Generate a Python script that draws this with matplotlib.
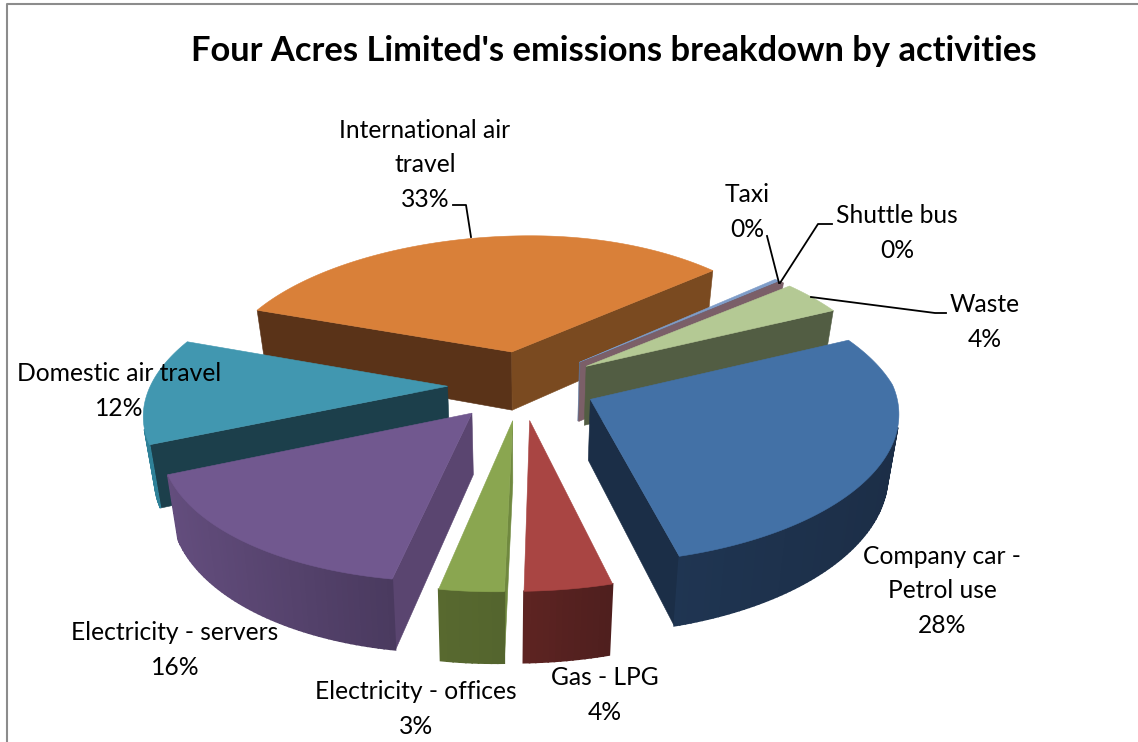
import numpy as np
from matplotlib import pyplot as plt
from matplotlib.patches import Polygon
from matplotlib.colors import to_rgb

plt.rcParams['font.family'] = ['Lato', 'DejaVu Sans']

title = "Four Acres Limited's emissions breakdown by activities"

# clockwise from the start angle, as in the source workbook
activities = ["Company car -\nPetrol use", "Gas - LPG", "Electricity - offices", "Electricity - servers",
              "Domestic air travel", "International air\ntravel", "Taxi", "Shuttle bus", "Waste"]
shares = [28, 4, 3, 16, 12, 33, 0.3, 0.3, 4]

top_colors = ["#4371A6", "#A94543", "#8AA650", "#71588F", "#4197B0", "#D98039", "#7F9DC9", "#7B5F68", "#B4C994"]
# outer wall, left end then right end on screen
wall_colors = [("#1F3552", "#1C2E47"), ("#5E2422", "#4F1F1E"), ("#58692F", "#54652E"), ("#634D7D", "#4A3A5F"),
               ("#2F8198", "#2F8198"), ("#7A4A20", "#7A4A20"), ("#5F7599", "#5F7599"), ("#7B5F68", "#7B5F68"),
               ("#525D43", "#525D43")]
# cut faces: the one at the start of the slice, the one at the end
cut_colors = [("#1B2E47", "#1B2E47"), ("#5E2422", "#5E2422"), ("#70893F", "#58692F"), ("#5A4570", "#5A4570"),
              ("#1C3F4B", "#1C3F4B"), ("#5A3318", "#7A4A20"), ("#5F7599", "#5F7599"), ("#7B5F68", "#7B5F68"),
              ("#525D43", "#525D43")]

label_pos = [(942, 591), (605, 695), (416, 709), (175, 650), (119, 391), (425, 165), (747, 212), (897, 233), (985, 322)]
leaders = [[(453, 205), (466, 205), (471, 237)],
           [(767, 236), (779, 283)],
           [(832, 224), (818, 224), (780, 283)],
           [(946, 313), (935, 313), (811, 297)]]

# view settings for the fake 3d pie
cx, cy = 522, 385
rx, ry = 297, 139
depth = 60
persp = 7.8
shear = 16.7
taper = 0.03
explode = 0.25
start_angle = 26


def project(x, y, z=0):
    s = persp / (persp + y)
    px = rx * x * s * (1 - taper * z) + shear * y
    # right side of the original is a bit wider in front, narrower at the back
    px += 6 * max(x, 0) - 18 * max(x, 0) * max(y, 0)
    return cx + px, cy - ry * y * s + depth * z * s


def mix(c1, c2, t):
    a, b = np.array(to_rgb(c1)), np.array(to_rgb(c2))
    return tuple(a + (b - a) * t)


fig = plt.figure(figsize=(11.38, 7.42), dpi=100)
ax = fig.add_axes([0, 0, 1, 1])
ax.set_xlim(0, 1138)
ax.set_ylim(742, 0)
ax.axis("off")

# chart frame
ax.plot([7, 7, 1138], [742, 4, 4], color="#8C8C8C", lw=1.5, zorder=1)

fractions = np.array(shares) / sum(shares) * 360
ends = start_angle - np.cumsum(fractions)
starts = ends + fractions

slices = []
for i in range(len(shares)):
    mid = np.radians((starts[i] + ends[i]) / 2)
    slices.append((explode * np.sin(mid), i, mid))
slices.sort(reverse=True)  # back to front


def add_face(pts, color, order, lw=0.4):
    ax.add_patch(Polygon(pts, closed=True, facecolor=color, edgecolor=color, lw=lw, zorder=order))


def facing(pts):
    x, y = np.array(pts).T
    return np.sum(x * np.roll(y, -1) - np.roll(x, -1) * y) < 0


order = 2
for _, i, mid in slices:
    ox, oy = explode * np.cos(mid), explode * np.sin(mid)
    th = np.radians(np.linspace(starts[i], ends[i], max(int(fractions[i]), 2) + 1))
    xs, ys = ox + np.cos(th), oy + np.sin(th)

    rim = [project(x, y) for x, y in zip(xs, ys)]
    rim_low = [project(x, y, 1) for x, y in zip(xs, ys)]
    apex, apex_low = project(ox, oy), project(ox, oy, 1)

    # cut faces
    face_a = [apex, rim[0], rim_low[0], apex_low]
    face_b = [rim[-1], apex, apex_low, rim_low[-1]]
    if facing(face_a):
        add_face(face_a, cut_colors[i][0], order)
    if facing(face_b):
        add_face(face_b, cut_colors[i][1], order)
    order += 0.1

    # outer wall in strips so the shade can change along it
    x_rim = np.array([p[0] for p in rim])
    span = max(x_rim.max() - x_rim.min(), 1)
    for k in range(len(rim) - 1):
        quad = [rim[k], rim[k + 1], rim_low[k + 1], rim_low[k]]
        if facing(quad):
            t = (x_rim[k] - x_rim.min()) / span
            add_face(quad, mix(wall_colors[i][0], wall_colors[i][1], t), order, lw=1.2)
    order += 0.1

    add_face([apex] + rim, top_colors[i], order)
    order += 0.1

for line in leaders:
    ax.plot(*zip(*line), color="black", lw=1.3, zorder=40)

for name, share, pos in zip(activities, shares, label_pos):
    ax.text(pos[0], pos[1], f"{name}\n{share:.0f}%", ha="center", va="center", fontsize=17.7,
            linespacing=1.58, color="black", zorder=50)

ax.text(614, 51, title, ha="center", va="center", fontsize=24.85, fontweight="bold", color="black", zorder=50)

fig.savefig("out.png", dpi=100)
